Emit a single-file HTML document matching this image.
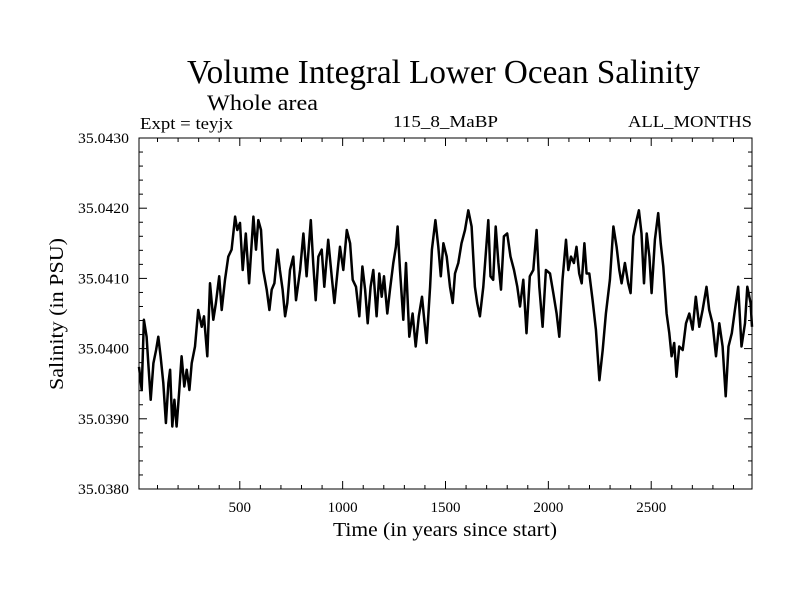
<!DOCTYPE html>
<html><head><meta charset="utf-8"><style>
html,body{margin:0;padding:0;background:#fff;}
svg{display:block;font-family:"Liberation Serif",serif;}
</style></head><body>
<svg id="chart" width="800" height="600" viewBox="0 0 800 600" xmlns="http://www.w3.org/2000/svg">
<rect width="800" height="600" fill="#fff"/>
<text x="187" y="83" font-size="34" textLength="513" lengthAdjust="spacingAndGlyphs">Volume Integral Lower Ocean Salinity</text>
<text x="207" y="110" font-size="22" textLength="111" lengthAdjust="spacingAndGlyphs">Whole area</text>
<text x="140" y="129" font-size="17" textLength="93" lengthAdjust="spacingAndGlyphs">Expt = teyjx</text>
<text x="393" y="127" font-size="17" textLength="105" lengthAdjust="spacingAndGlyphs">115_8_MaBP</text>
<text x="628" y="127" font-size="17" textLength="124" lengthAdjust="spacingAndGlyphs">ALL_MONTHS</text>
<text transform="translate(63,314) rotate(-90)" text-anchor="middle" font-size="20" textLength="152" lengthAdjust="spacingAndGlyphs">Salinity (in PSU)</text>
<text x="445" y="536" text-anchor="middle" font-size="20" textLength="224" lengthAdjust="spacingAndGlyphs">Time (in years since start)</text>
<g id="axes"></g>
<g id="series"></g>
<rect x="139" y="138" width="613" height="351" fill="none" stroke="#000" stroke-width="1"/>
</svg>
<script>
const years = [10,23,34,47,55,67,80,93,104,115,128,141,153,161,172,182,193,206,217,230,242,255,266,282,298,315,326,342,355,371,384,400,412,428,444,460,477,488,501,514,529,545,566,579,590,603,614,631,644,655,668,684,695,708,720,731,744,760,773,793,809,825,845,857,869,882,898,911,930,947,960,974,987,1003,1020,1036,1049,1065,1081,1096,1109,1122,1136,1149,1165,1178,1190,1201,1217,1230,1246,1259,1267,1279,1295,1308,1324,1340,1355,1370,1386,1395,1408,1425,1434,1451,1465,1477,1490,1506,1522,1535,1546,1562,1578,1595,1611,1627,1643,1654,1667,1684,1708,1719,1732,1744,1757,1770,1784,1800,1816,1833,1849,1862,1878,1894,1910,1927,1943,1956,1972,1988,2008,2024,2040,2053,2069,2086,2097,2110,2124,2137,2150,2162,2175,2186,2199,2215,2231,2248,2264,2280,2299,2316,2332,2345,2356,2372,2388,2400,2413,2429,2440,2453,2465,2478,2491,2502,2518,2534,2546,2559,2575,2588,2599,2612,2623,2636,2653,2669,2685,2701,2717,2734,2750,2769,2782,2798,2815,2831,2847,2862,2876,2892,2907,2923,2939,2956,2967,2983,2990];
const salinity = [35.03974,35.03941,35.04041,35.04017,35.03979,35.03927,35.03979,35.03998,35.04017,35.03989,35.03951,35.03894,35.03951,35.03970,35.03889,35.03927,35.03889,35.03941,35.03989,35.03946,35.03970,35.03941,35.03979,35.04003,35.04055,35.04031,35.04046,35.03989,35.04093,35.04041,35.04065,35.04103,35.04055,35.04098,35.04131,35.04141,35.04188,35.04169,35.04179,35.04112,35.04164,35.04093,35.04188,35.04141,35.04183,35.04169,35.04112,35.04084,35.04055,35.04084,35.04093,35.04141,35.04112,35.04084,35.04046,35.04065,35.04112,35.04131,35.04069,35.04112,35.04164,35.04103,35.04183,35.04122,35.04069,35.04131,35.04141,35.04088,35.04155,35.04103,35.04065,35.04107,35.04145,35.04112,35.04169,35.04150,35.04098,35.04088,35.04046,35.04117,35.04084,35.04036,35.04088,35.04112,35.04046,35.04107,35.04074,35.04103,35.04050,35.04084,35.04122,35.04145,35.04174,35.04112,35.04041,35.04122,35.04017,35.04050,35.04003,35.04046,35.04074,35.04046,35.04008,35.04088,35.04141,35.04183,35.04145,35.04103,35.04150,35.04131,35.04088,35.04065,35.04107,35.04122,35.04150,35.04169,35.04197,35.04174,35.04088,35.04065,35.04046,35.04088,35.04183,35.04103,35.04098,35.04174,35.04122,35.04084,35.04160,35.04164,35.04131,35.04112,35.04088,35.04060,35.04098,35.04022,35.04103,35.04112,35.04169,35.04088,35.04031,35.04112,35.04107,35.04079,35.04050,35.04017,35.04098,35.04155,35.04112,35.04131,35.04122,35.04145,35.04107,35.04093,35.04150,35.04107,35.04107,35.04069,35.04027,35.03955,35.03998,35.04050,35.04098,35.04174,35.04145,35.04112,35.04093,35.04122,35.04093,35.04079,35.04160,35.04183,35.04197,35.04164,35.04093,35.04164,35.04131,35.04079,35.04155,35.04193,35.04150,35.04117,35.04050,35.04022,35.03989,35.04008,35.03960,35.04003,35.03998,35.04036,35.04050,35.04027,35.04074,35.04031,35.04055,35.04088,35.04055,35.04036,35.03989,35.04036,35.04003,35.03932,35.04003,35.04022,35.04055,35.04088,35.04003,35.04036,35.04088,35.04065,35.04031];
const xTickValues = [500,1000,1500,2000,2500];
const xTickLabels = ["500","1000","1500","2000","2500"];
const yTickValues = [35.038,35.039,35.040,35.041,35.042,35.043];
const yTickLabels = ["35.0380","35.0390","35.0400","35.0410","35.0420","35.0430"];

const X0=139, X1=752, Y0=489, Y1=138;
const xMin=10, xMax=2990, yMin=35.038, yMax=35.043;
function xScale(v){return X0+(v-xMin)/(xMax-xMin)*(X1-X0);}
function yScale(v){return Y0-(v-yMin)/(yMax-yMin)*(Y0-Y1);}
const NS="http://www.w3.org/2000/svg";
const axes=document.getElementById('axes');
function mk(tag,attrs,parent){const e=document.createElementNS(NS,tag);for(const k in attrs)e.setAttribute(k,attrs[k]);parent.appendChild(e);return e;}

for(let v=100; v<=2900; v+=100){
  const major = v%500===0;
  const len = major?8:4;
  const x=xScale(v);
  const t1=mk('line',{x1:x,x2:x,y1:Y0,y2:Y0-len,stroke:'#000','stroke-width':1},axes);
  
  
  const t2=mk('line',{x1:x,x2:x,y1:Y1,y2:Y1+len,stroke:'#000','stroke-width':1},axes);
  
  
}
xTickValues.forEach((v,i)=>{
  const t=mk('text',{x:xScale(v),y:512,'text-anchor':'middle','font-size':15},axes);
  t.textContent=xTickLabels[i];
  
  
});
for(let i=1;i<25;i++){
  const v=yMin+i*0.0002;
  const major = i%5===0;
  const len = major?8:4;
  const y=yScale(v);
  const t1=mk('line',{x1:X0,x2:X0+len,y1:y,y2:y,stroke:'#000','stroke-width':1},axes);
  
  
  const t2=mk('line',{x1:X1,x2:X1-len,y1:y,y2:y,stroke:'#000','stroke-width':1},axes);
  
  
}
yTickValues.forEach((v,i)=>{
  const t=mk('text',{x:129,y:yScale(v)+5,'text-anchor':'end','font-size':15,textLength:51,lengthAdjust:'spacingAndGlyphs'},axes);
  t.textContent=yTickLabels[i];
  
  
});
const pts=years.map((yr,i)=>xScale(yr).toFixed(1)+','+yScale(salinity[i]).toFixed(1)).join(' ');
const line=mk('polyline',{points:pts,fill:'none',stroke:'#000','stroke-width':2.5,'stroke-linejoin':'round'},document.getElementById('series'));


</script>
</body></html>
